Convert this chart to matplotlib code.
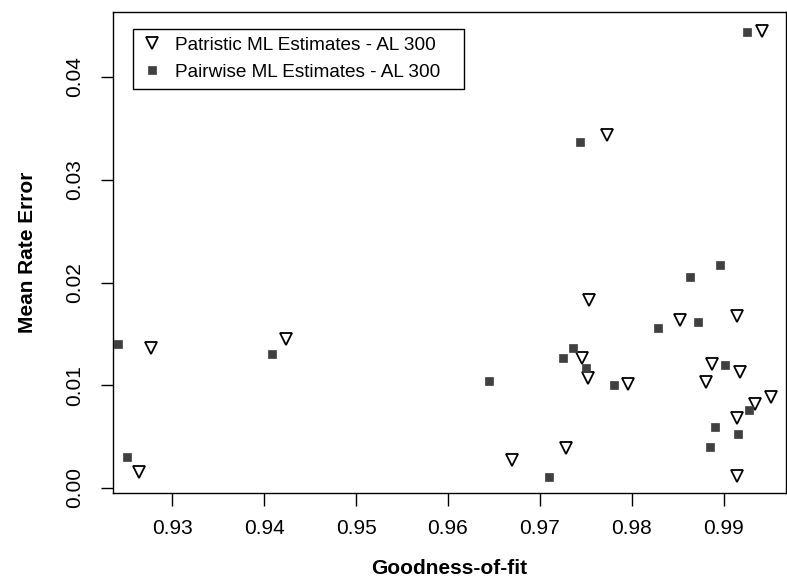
import numpy as np
import matplotlib
matplotlib.use('Agg')
import matplotlib.pyplot as plt

plt.rcParams['font.family'] = ['Liberation Sans', 'DejaVu Sans']

# Patristic ML estimates (open triangles)
patristicFit = [0.92765, 0.92638, 0.94234, 0.97534, 0.98524, 0.99141, 0.97455, 0.97527,
                0.97955, 0.98873, 0.99178, 0.98807, 0.99511, 0.99341, 0.99141, 0.97284,
                0.96700, 0.99141, 0.97727, 0.99414]
patristicErr = [0.01360, 0.00159, 0.01447, 0.01830, 0.01635, 0.01677, 0.01262, 0.01067,
                0.01012, 0.01204, 0.01126, 0.01029, 0.00886, 0.00815, 0.00678, 0.00392,
                0.00273, 0.00117, 0.03436, 0.04448]

# Pairwise ML estimates (filled squares)
pairwiseFit = [0.92412, 0.92504, 0.94082, 0.98960, 0.98633, 0.98724, 0.98288, 0.97364,
               0.97255, 0.97502, 0.96449, 0.97810, 0.99017, 0.99279, 0.98909, 0.99156,
               0.98854, 0.97096, 0.97436, 0.99257]
pairwiseErr = [0.01399, 0.00305, 0.01301, 0.02167, 0.02051, 0.01619, 0.01554, 0.01366,
               0.01262, 0.01165, 0.01044, 0.01002, 0.01200, 0.00759, 0.00590, 0.00522,
               0.00402, 0.00110, 0.03370, 0.04441]

xTicks = [0.93, 0.94, 0.95, 0.96, 0.97, 0.98, 0.99]
yTicks = [0.00, 0.01, 0.02, 0.03, 0.04]

fig = plt.figure(figsize=(7.87, 5.77), dpi=100)
ax = fig.add_axes([113 / 787, 1 - 492.7 / 577, 673 / 787, 481 / 577])

ax.plot(patristicFit, patristicErr, linestyle='none', marker='v', ms=8.5,
        mfc='white', mec='black', mew=1.3, label='Patristic ML Estimates - AL 300')
ax.plot(pairwiseFit, pairwiseErr, linestyle='none', marker='s', ms=5.5,
        mfc='#404040', mec='#404040', mew=0.5, label='Pairwise ML Estimates - AL 300')

ax.set_xlim(0.92355, 0.99678)
ax.set_ylim(-0.00046, 0.04636)
ax.set_xticks(xTicks)
ax.set_xticklabels(['{:.2f}'.format(v) for v in xTicks])
ax.set_yticks(yTicks)
ax.set_yticklabels(['{:.2f}'.format(v) for v in yTicks], rotation=90, va='center')
ax.tick_params(axis='both', direction='out', length=9, width=1, labelsize=15)
ax.tick_params(axis='x', pad=10)
ax.tick_params(axis='y', pad=12)

for sp in ax.spines.values():
    sp.set_linewidth(1)
    sp.set_color('black')

ax.set_xlabel('Goodness-of-fit', fontsize=15, fontweight='bold', labelpad=15)
ax.set_ylabel('Mean Rate Error', fontsize=15, fontweight='bold', labelpad=20)

leg = ax.legend(loc='upper left', bbox_to_anchor=(133 / 787, 1 - 85 / 577, 331 / 787, 56 / 577),
                bbox_transform=fig.transFigure, mode='expand', borderaxespad=0,
                fancybox=False, framealpha=1, edgecolor='black', fontsize=13.7,
                handlelength=1.2, handletextpad=0.6, borderpad=0.41, labelspacing=0.51)
leg.get_frame().set_linewidth(1)

fig.savefig('out.png', dpi=100)
